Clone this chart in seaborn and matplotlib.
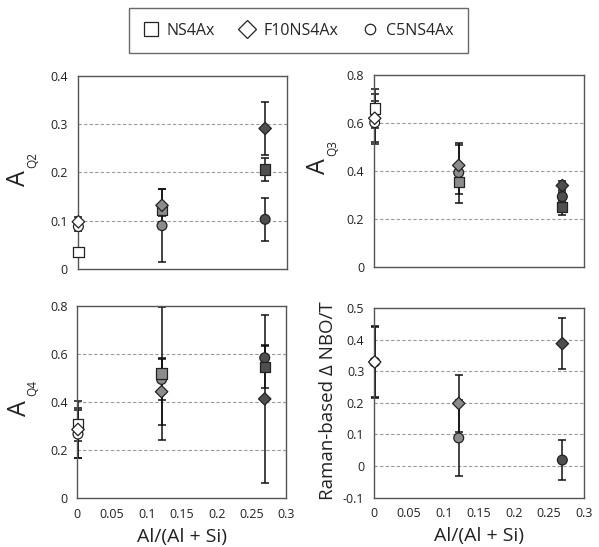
import numpy as np
import pandas as pd
import matplotlib
matplotlib.use("Agg")
import matplotlib.pyplot as plt
from matplotlib.lines import Line2D
import seaborn as sns

# ---------------- data ----------------
x_al = [0.001, 0.121, 0.269]
groups = [0, 1, 2]

aq2_ns = [0.036, 0.122, 0.206]
aq2_ns_err = [0.0, 0.012, 0.023]
aq2_f10 = [0.098, 0.132, 0.291]
aq2_f10_err = [0.010, 0.034, 0.054]
aq2_c5 = [0.088, 0.090, 0.103]
aq2_c5_err = [0.010, 0.075, 0.045]

aq3_ns = [0.661, 0.356, 0.252]
aq3_ns_err = [0.080, 0.050, 0.035]
aq3_f10 = [0.620, 0.424, 0.340]
aq3_f10_err = [0.100, 0.085, 0.020]
aq3_c5 = [0.602, 0.394, 0.294]
aq3_c5_err = [0.090, 0.125, 0.020]

aq4_ns = [0.307, 0.519, 0.547]
aq4_ns_err = [0.070, 0.277, 0.090]
aq4_f10 = [0.286, 0.443, 0.413]
aq4_f10_err = [0.120, 0.140, 0.350]
aq4_c5 = [0.267, 0.494, 0.584]
aq4_c5_err = [0.100, 0.086, 0.050]

nbo_f10 = [0.329, 0.198, 0.387]
nbo_f10_err = [0.115, 0.090, 0.081]
nbo_c5 = [0.329, 0.089, 0.019]
nbo_c5_err = [0.110, 0.120, 0.062]

series_names = ["NS4Ax", "F10NS4Ax", "C5NS4Ax"]
x_ticks = [0, 0.05, 0.1, 0.15, 0.2, 0.25, 0.3]
x_ticklabels = ["0", "0.05", "0.1", "0.15", "0.2", "0.25", "0.3"]

# ---------------- style ----------------
sns.set_style("white")
plt.rcParams["font.family"] = ["Open Sans", "DejaVu Sans"]

fill_colors = {0: "white", 1: "#8c8c8c", 2: "#4f4f4f"}
markers = {"NS4Ax": "s", "F10NS4Ax": "D", "C5NS4Ax": "o"}
sizes = {"NS4Ax": 55, "F10NS4Ax": 40, "C5NS4Ax": 50}
spine_col = "#555555"
text_col = "#222222"


def build_df(ns, ns_err, f10, f10_err, c5, c5_err):
    rows = []
    for name, vals, errs in [("NS4Ax", ns, ns_err), ("F10NS4Ax", f10, f10_err), ("C5NS4Ax", c5, c5_err)]:
        if vals is None:
            continue
        for g, x, v, e in zip(groups, x_al, vals, errs):
            rows.append({"x": x, "y": v, "err": e, "series": name, "group": g})
    return pd.DataFrame(rows)


panels = [
    dict(df=build_df(aq2_ns, aq2_ns_err, aq2_f10, aq2_f10_err, aq2_c5, aq2_c5_err),
         ylim=(0, 0.4), yt=[0, 0.1, 0.2, 0.3, 0.4], ytl=["0", "0.1", "0.2", "0.3", "0.4"],
         grid=[0.1, 0.2, 0.3], lab=("A", "Q2"), lab_pos=((-0.281, 0.473), (-0.214, 0.564)),
         pos=[0.1297, 0.508, 0.349, 0.3534], showx=False),
    dict(df=build_df(aq3_ns, aq3_ns_err, aq3_f10, aq3_f10_err, aq3_c5, aq3_c5_err),
         ylim=(0, 0.8), yt=[0, 0.2, 0.4, 0.6, 0.8], ytl=["0", "0.2", "0.4", "0.6", "0.8"],
         grid=[0.2, 0.4, 0.6], lab=("A", "Q3"), lab_pos=((-0.262, 0.527), (-0.195, 0.618)),
         pos=[0.6244, 0.5113, 0.3506, 0.3516], showx=False),
    dict(df=build_df(aq4_ns, aq4_ns_err, aq4_f10, aq4_f10_err, aq4_c5, aq4_c5_err),
         ylim=(0, 0.8), yt=[0, 0.2, 0.4, 0.6, 0.8], ytl=["0", "0.2", "0.4", "0.6", "0.8"],
         grid=[0.2, 0.4, 0.6], lab=("A", "Q4"), lab_pos=((-0.278, 0.471), (-0.212, 0.575)),
         pos=[0.129, 0.089, 0.349, 0.352], showx=True),
    dict(df=build_df(None, None, nbo_f10, nbo_f10_err, nbo_c5, nbo_c5_err),
         ylim=(-0.1, 0.5), yt=[-0.1, 0, 0.1, 0.2, 0.3, 0.4, 0.5],
         ytl=["-0.1", "0", "0.1", "0.2", "0.3", "0.4", "0.5"],
         grid=[0, 0.1, 0.2, 0.3, 0.4], lab=("Raman-based Δ NBO/T", None), lab_pos=((-0.217, 0.51), None),
         pos=[0.6244, 0.0901, 0.3506, 0.347], showx=True),
]

fig = plt.figure(figsize=(5.99, 5.47), dpi=100)

for p in panels:
    df = p["df"]
    ax = fig.add_axes(p["pos"])
    for gy in p["grid"]:
        ax.axhline(gy, color="#9a9a9a", lw=0.8, ls=(0, (3, 2)), zorder=0)
    ax.errorbar(df["x"], df["y"], yerr=df["err"], fmt="none", ecolor="#111111",
                elinewidth=1.1, capsize=3, capthick=1.1, zorder=2, clip_on=False)
    for name in ["C5NS4Ax", "NS4Ax", "F10NS4Ax"]:
        sub = df[df["series"] == name]
        if sub.empty:
            continue
        sns.scatterplot(data=sub, x="x", y="y", hue="group", palette=fill_colors,
                        marker=markers[name], s=sizes[name], edgecolor="#222222",
                        linewidth=0.9, legend=False, ax=ax, zorder=3, clip_on=False)
    ax.set_xlim(0, 0.3)
    ax.set_ylim(*p["ylim"])
    ax.set_yticks(p["yt"])
    ax.set_yticklabels(p["ytl"])
    ax.set_xticks(x_ticks)
    if p["showx"]:
        ax.set_xticklabels(x_ticklabels)
        ax.set_xlabel("Al/(Al + Si)", fontsize=14, color=text_col, labelpad=5)
    else:
        ax.set_xticklabels([])
        ax.set_xlabel("")
    ax.set_ylabel("")
    ax.tick_params(axis="x", direction="in", length=4, width=0.9, color=spine_col,
                   labelsize=9, labelcolor=text_col, pad=7)
    ax.tick_params(axis="y", length=0, labelsize=9, labelcolor=text_col, pad=7)
    main, sub_txt = p["lab"]
    (mx, my), sub_pos = p["lab_pos"]
    if sub_txt is not None:
        ax.text(mx, my, main, transform=ax.transAxes, rotation=90, ha="center", va="center",
                fontsize=18, color=text_col)
        ax.text(sub_pos[0], sub_pos[1], sub_txt, transform=ax.transAxes, rotation=90,
                ha="center", va="center", fontsize=8.5, color=text_col)
    else:
        ax.text(mx, my, main, transform=ax.transAxes, rotation=90, ha="center", va="center",
                fontsize=13.5, color=text_col)
    for sp in ax.spines.values():
        sp.set_color(spine_col)
        sp.set_linewidth(1.0)

handle_sizes = {"NS4Ax": 9.4, "F10NS4Ax": 9.0, "C5NS4Ax": 7.5}
handles = [Line2D([], [], ls="none", marker=markers[n], markersize=handle_sizes[n],
                  markerfacecolor="white", markeredgecolor="#222222", markeredgewidth=0.9, label=n)
           for n in series_names]
leg = fig.legend(handles=handles, loc="center", bbox_to_anchor=(0.498, 0.944), ncol=3,
                 frameon=True, fancybox=False, fontsize=11.5, handletextpad=0.5,
                 columnspacing=1.5, borderpad=0.9, handlelength=1.0)
leg.get_frame().set_edgecolor("#444444")
leg.get_frame().set_linewidth(1.0)

fig.savefig("out.png", dpi=100)
